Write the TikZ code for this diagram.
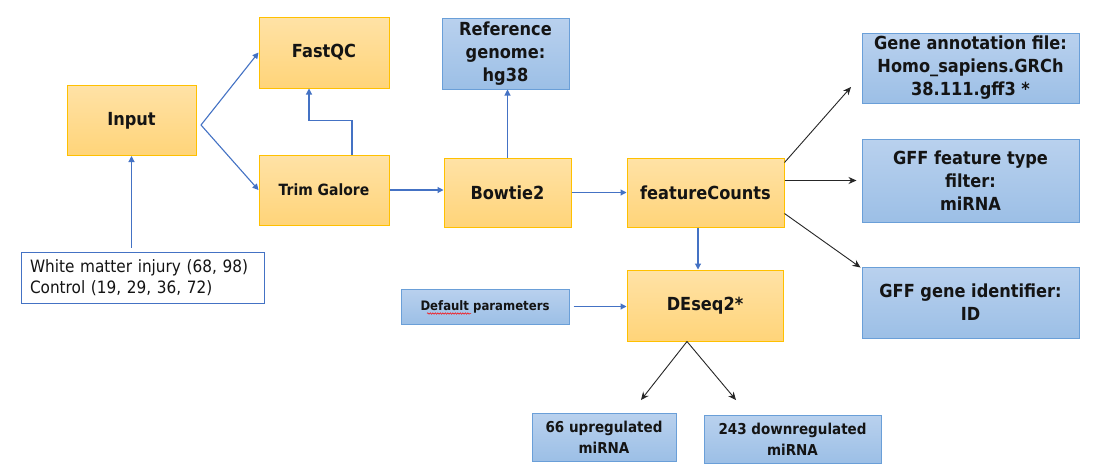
\documentclass[tikz,border=0pt]{standalone}
\usepackage{fontspec}
\setmainfont{DejaVu Sans}[FakeStretch=0.9]
\usetikzlibrary{arrows.meta,decorations.pathmorphing}

\definecolor{orTop}{HTML}{FFE2A6}
\definecolor{orBot}{HTML}{FFD479}
\definecolor{orLine}{HTML}{FFC000}
\definecolor{blTop}{HTML}{B9D1EE}
\definecolor{blBot}{HTML}{9CBFE6}
\definecolor{blLine}{HTML}{6A9FD8}
\definecolor{flow}{HTML}{4472C4}
\definecolor{ink}{HTML}{262626}
\definecolor{txt}{HTML}{141414}

\tikzset{
  orbox/.style={draw=orLine, line width=1pt, top color=orTop, bottom color=orBot,
    text=txt, align=center, inner sep=0pt, font=\bfseries\fontsize{18}{23}\selectfont},
  blbox/.style={draw=blLine, line width=1pt, top color=blTop, bottom color=blBot,
    text=txt, align=center, inner sep=0pt, font=\bfseries\fontsize{18}{23}\selectfont},
  flowline/.style={draw=flow, line width=1.1pt, -{Triangle[length=6pt,width=6pt]}},
  inkline/.style={draw=ink, line width=0.9pt, -{Stealth[length=8pt,width=7pt]}},
}

\begin{document}
\begin{tikzpicture}[x=1pt, y=-1pt]
\useasboundingbox[fill=white] (0,0) rectangle (1102,469);

% processing steps
\node[orbox, minimum width=129pt, minimum height=70pt] (input) at (131.5,120.5) {Input};
\node[orbox, minimum width=130pt, minimum height=71pt] (fastqc) at (324,52.5) {FastQC};
\node[orbox, minimum width=130pt, minimum height=70pt,
      font=\bfseries\fontsize{15.5}{19}\selectfont] (trim) at (324,190) {Trim Galore};
\node[orbox, minimum width=127pt, minimum height=69pt] (bowtie) at (507.5,192.5) {Bowtie2};
\node[orbox, minimum width=157pt, minimum height=69pt] (fc) at (705.5,192.5) {featureCounts};
\node[orbox, minimum width=156pt, minimum height=71pt] (deseq) at (705,305.5) {DEseq2*};

% sample list
\node[draw=flow, fill=white, line width=1pt, text width=225pt, inner xsep=9pt,
      inner ysep=0pt, minimum height=51pt, align=left, text=txt,
      font=\fontsize{17}{21.5}\selectfont]
      (samples) at (142.5,277.5) {White matter injury (68, 98)\\Control (19, 29, 36, 72)};

% inputs and settings
\node[blbox, minimum width=127pt, minimum height=71pt] (ref) at (505.5,53.5) {Reference\\genome:\\hg38};
\node[blbox, minimum width=168pt, minimum height=35pt,
      font=\bfseries\fontsize{13}{16}\selectfont] (defaults) at (485,306.5) {Default parameters};
\node[blbox, minimum width=217pt, minimum height=70pt] (gff) at (970.5,68)
      {Gene annotation file:\\Homo\_sapiens.GRCh\\38.111.gff3 *};
\node[blbox, minimum width=217pt, minimum height=83pt] (ftype) at (970.5,180.5)
      {GFF feature type\\filter:\\miRNA};
\node[blbox, minimum width=217pt, minimum height=71pt] (gid) at (970.5,302.5)
      {GFF gene identifier:\\ID};

% results
\node[blbox, minimum width=144pt, minimum height=48pt,
      font=\bfseries\fontsize{15}{21}\selectfont] (up) at (604,437) {66 upregulated\\miRNA};
\node[blbox, minimum width=177pt, minimum height=48pt,
      font=\bfseries\fontsize{15}{21}\selectfont] (down) at (792.5,439) {243 downregulated\\miRNA};

% spell-check underline
\draw[red, line width=0.5pt, decorate, decoration={snake, amplitude=0.7pt, segment length=2.5pt}]
  ([xshift=-58pt,yshift=-7pt]defaults.center) -- ([xshift=-14pt,yshift=-7pt]defaults.center);

% blue flow
\coordinate (fork) at (201,125);
\draw[flowline] (fork) -- (fastqc.west);
\draw[flowline] (fork) -- (trim.west);
\draw[flowline] ([xshift=28pt]trim.north) -- ++(0,-34) -| ([xshift=-15pt]fastqc.south);
\draw[flowline] ([yshift=4pt]samples.north -| input.south) -- (input.south);
\draw[flowline] (trim.east) -- (bowtie.west |- trim.east);
\draw[flowline] (bowtie.north) -- (ref.south -| bowtie.north);
\draw[flowline] (bowtie.east) -- (fc.west);
\draw[flowline] ([xshift=-7.5pt]fc.south) -- ([xshift=-7.5pt]fc.south |- deseq.north);
\draw[flowline] ([xshift=4pt]defaults.east) -- (deseq.west |- defaults.east);

% black annotation arrows
\coordinate (gffTip) at (851,87);
\draw[inkline] ([yshift=-5pt]fc.north east) -- (gffTip);
\draw[inkline] (fc.east |- ftype.west) -- ([xshift=-5pt]ftype.west);
\draw[inkline] ([yshift=14pt]fc.south east) -- ([xshift=-1pt,yshift=-1pt]gid.north west);
\coordinate (upTip) at (641,400);
\coordinate (downTip) at (736,400);
\draw[inkline] ([xshift=-18pt]deseq.south) -- (upTip);
\draw[inkline] ([xshift=-18pt]deseq.south) -- (downTip);
\end{tikzpicture}
\end{document}
